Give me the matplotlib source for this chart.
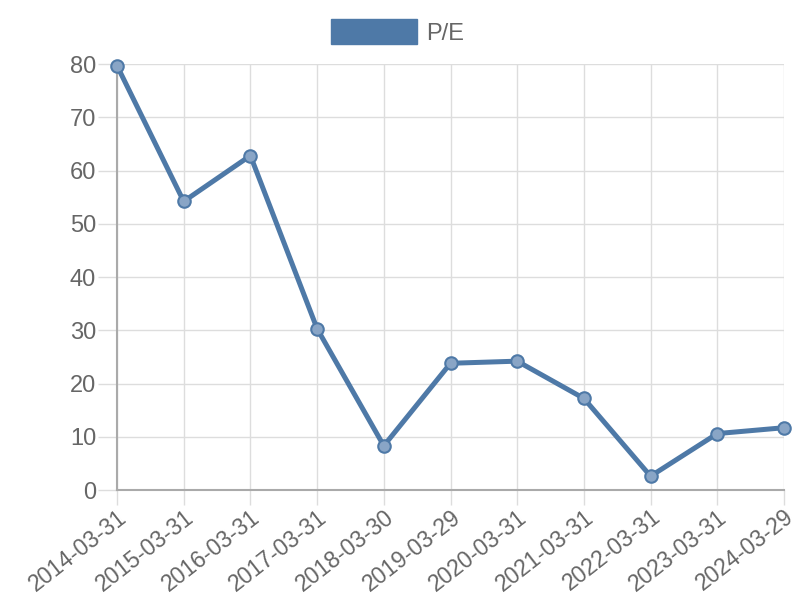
import matplotlib
matplotlib.use("Agg")
import matplotlib.pyplot as plt
from matplotlib.patches import Patch

dates = ["2014-03-31", "2015-03-31", "2016-03-31", "2017-03-31", "2018-03-30",
         "2019-03-29", "2020-03-31", "2021-03-31", "2022-03-31", "2023-03-31",
         "2024-03-29"]
pe = [79.7, 54.2, 62.8, 30.3, 8.3, 23.8, 24.2, 17.2, 2.6, 10.6, 11.7]
yticks = [0, 10, 20, 30, 40, 50, 60, 70, 80]

plt.rcParams['font.family'] = ['Liberation Sans', 'DejaVu Sans']
color = "#4e79a7"
grey = "#666666"

fig = plt.figure(figsize=(8, 6), dpi=100)
ax = fig.add_axes([0.14625, 0.1833, 0.98 - 0.14625, 0.8933 - 0.1833])

x = list(range(len(dates)))
ax.plot(x, pe, color=color, linewidth=3.6, marker="o", markersize=9,
        markerfacecolor="#89a5c6", markeredgecolor=color, markeredgewidth=1.5,
        zorder=3, clip_on=False)

ax.set_xlim(0, len(dates) - 1)
ax.set_ylim(0, 80)
ax.set_xticks(x)
ax.set_xticklabels(dates, rotation=38, ha="right", rotation_mode="anchor")
ax.set_yticks(yticks)

ax.grid(True, color="#dddddd", linewidth=1)
ax.set_axisbelow(True)
for s in ["top", "right"]:
    ax.spines[s].set_visible(False)
for s in ["left", "bottom"]:
    ax.spines[s].set_color("#aaaaaa")
    ax.spines[s].set_linewidth(1.5)
ax.tick_params(axis="both", colors="#dddddd", labelcolor=grey, labelsize=17,
               length=14, width=1)
ax.tick_params(axis="x", pad=0, length=11, labelsize=16.5)
ax.tick_params(axis="y", pad=1)

handle = Patch(facecolor=color, edgecolor=color)
fig.legend([handle], ["P/E"], loc="center", bbox_to_anchor=(0.497, 0.947),
           frameon=False, fontsize=17, labelcolor=grey, handlelength=3.64,
           handleheight=1.27, handletextpad=0.42, borderpad=0, borderaxespad=0)

fig.savefig("out.png", dpi=100)
